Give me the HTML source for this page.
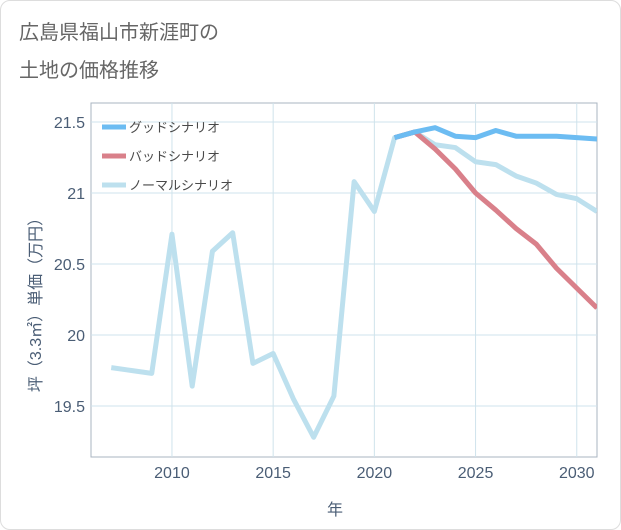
<!DOCTYPE html>
<html><head><meta charset="utf-8"><style>
body{margin:0;background:#fff;font-family:"Liberation Sans","Noto Sans CJK JP",sans-serif;}
#wrap{position:relative;width:619px;height:528px;border:1px solid #ddd;border-radius:10px;overflow:hidden;background:#fff}
</style></head><body>
<div id="wrap">
<svg id="chart" width="621" height="530"></svg>
</div>
<script>
const years=[2007,2008,2009,2010,2011,2012,2013,2014,2015,2016,2017,2018,2019,2020,2021,2022,2023,2024,2025,2026,2027,2028,2029,2030,2031];
const normalVals=[19.77,19.75,19.73,20.71,19.64,20.59,20.72,19.80,19.87,19.55,19.28,19.57,21.08,20.87,21.39,21.43,21.34,21.32,21.22,21.20,21.12,21.07,20.99,20.96,20.87];
const scenYears=[2021,2022,2023,2024,2025,2026,2027,2028,2029,2030,2031];
const goodVals=[21.39,21.43,21.46,21.40,21.39,21.44,21.40,21.40,21.40,21.39,21.38];
const badVals=[21.39,21.43,21.31,21.17,21.00,20.88,20.75,20.64,20.47,20.33,20.19];
const xTicks=[2010,2015,2020,2025,2030];
const yTicks=[19.5,20,20.5,21,21.5];
const legendLabels=["グッドシナリオ","バッドシナリオ","ノーマルシナリオ"];
const colors=["#6cbcf2","#d9808a","#bde0ee"];
const NS="http://www.w3.org/2000/svg";
const svg=document.getElementById('chart');
const L=90,R=596,T=102,B=456;
const x=v=>L+(v-2006)*(R-L)/(2031-2006);
const y=v=>334-(v-20)*142;
const axisColor='#4a5d75';
function mk(t,a,p){const e=document.createElementNS(NS,t);for(const k in a)e.setAttribute(k,a[k]);(p||svg).appendChild(e);return e;}
let e;
e=mk('text',{x:18,y:38,'font-size':20,fill:'#666'});e.textContent='広島県福山市新涯町の';


e=mk('text',{x:18,y:76,'font-size':20,fill:'#666'});e.textContent='土地の価格推移';


e=mk('rect',{x:L,y:T,width:R-L,height:B-T,fill:'none',stroke:'#aab4c0'});


xTicks.forEach(t=>{
 e=mk('line',{x1:x(t),x2:x(t),y1:T,y2:B,stroke:'#cfe3ec'});
 
 
 e=mk('text',{x:x(t),y:477,'font-size':16,fill:axisColor,'text-anchor':'middle'});e.textContent=t;
 
 
});
yTicks.forEach(t=>{
 e=mk('line',{x1:L,x2:R,y1:y(t),y2:y(t),stroke:'#cfe3ec'});
 
 
 e=mk('text',{x:84,y:y(t)+6,'font-size':16,fill:axisColor,'text-anchor':'end'});e.textContent=t;
 
 
});
e=mk('text',{x:334,y:514,'font-size':16,fill:axisColor,'text-anchor':'middle'});e.textContent='年';


e=mk('text',{x:0,y:0,'font-size':16,fill:axisColor,'text-anchor':'middle',transform:'translate(40,300) rotate(-90)'});e.textContent='坪（3.3㎡）単価（万円）';


const clip=mk('clipPath',{id:'c'});mk('rect',{x:L,y:T,width:R-L,height:B-T},clip);
function line(xs,vs,c,name){
 const d=xs.map((v,i)=>(i?'L':'M')+x(v)+','+y(vs[i])).join(' ');
 const p=mk('path',{d:d,fill:'none',stroke:c,'stroke-width':5,'stroke-linejoin':'round','clip-path':'url(#c)'});
 
 
}
line(years,normalVals,colors[2],'normal-scenario-line');
line(scenYears,badVals,colors[1],'bad-scenario-line');
line(scenYears,goodVals,colors[0],'good-scenario-line');
legendLabels.forEach((s,i)=>{
 const yy=126+i*29;
 e=mk('line',{x1:101,x2:125,y1:yy,y2:yy,stroke:colors[i],'stroke-width':5});
 
 
 e=mk('text',{x:128,y:yy+5,'font-size':13,fill:'#4a4a4a'});e.textContent=s;
 
 
});
</script>
</body></html>
